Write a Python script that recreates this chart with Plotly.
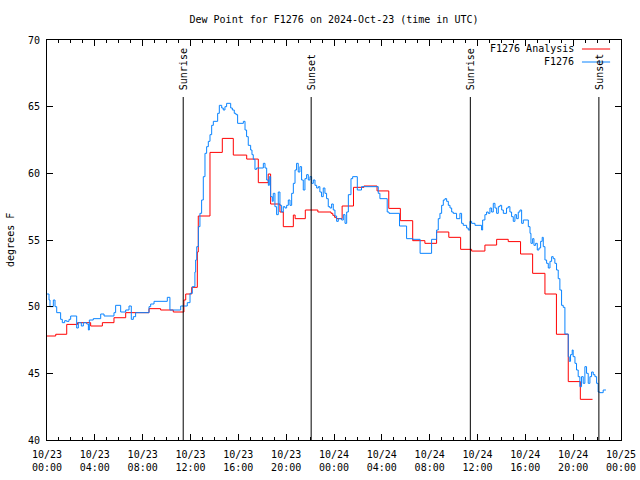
import plotly.graph_objects as go

# hours since 2024-10-23 00:00 UTC
red_t = [0.0, 0.73, 1.65, 2.55, 3.65, 4.63, 5.6, 6.58, 8.53, 9.5, 10.56, 11.45, 11.6, 12.1, 12.57, 12.65,
         13.63, 14.66, 15.58, 16.7, 17.67, 18.5, 18.7, 19.48, 19.76, 20.6, 20.75, 21.6, 22.65, 23.75, 23.9,
         24.05, 24.2, 24.68, 25.63, 26.5, 27.6, 28.58, 29.55, 30.58, 31.6, 32.58, 33.6, 34.59, 35.51, 36.62,
         37.6, 38.57, 39.6, 40.61, 41.64, 42.6, 43.59, 44.6, 45.62]
red_v = [47.8, 47.93, 48.67, 48.8, 48.55, 48.8, 49.17, 49.55, 49.85, 49.75, 49.6, 50.5, 50.95, 51.45, 54.1, 56.8,
         61.57, 62.62, 61.37, 61.07, 59.3, 59.95, 57.7, 57.1, 56.0, 56.87, 56.6, 57.25, 57.1, 57.0, 56.85,
         56.7, 56.6, 57.55, 58.95, 59.05, 58.68, 57.37, 56.45, 54.95, 54.75, 55.6, 55.2, 54.3, 54.17, 54.62,
         55.05, 54.88, 53.95, 52.5, 50.95, 47.93, 44.38, 43.05, 43.05]

blue_t = [0.0, 0.17, 0.25, 0.53, 0.67, 0.81, 1.14, 1.28, 1.48, 1.64, 1.84, 1.98, 2.48, 2.62, 2.87, 3.04,
          3.32, 3.46, 3.54, 3.87, 4.49, 4.77, 5.6, 5.74, 6.16, 6.58, 6.86, 7.05, 7.22, 7.41, 8.53, 8.67,
          8.95, 10.06, 10.28, 11.18, 11.73, 11.96, 12.15, 12.37, 12.43, 12.52, 12.66, 12.79, 12.93, 13.07,
          13.21, 13.35, 13.49, 13.63, 13.77, 13.91, 14.27, 14.41, 14.61, 14.74, 14.88, 15.02, 15.36, 15.5,
          15.66, 15.8, 15.94, 16.42, 16.56, 16.69, 16.83, 17.03, 17.14, 17.25, 17.39, 17.53, 18.09, 18.23,
          18.37, 18.51, 18.59, 18.7, 18.84, 18.92, 19.06, 19.2, 19.34, 19.48, 19.62, 19.76, 19.9, 20.04,
          20.18, 20.32, 20.46, 20.6, 20.74, 20.87, 21.01, 21.15, 21.29, 21.43, 21.57, 21.71, 21.85, 21.99,
          22.13, 22.27, 22.41, 22.55, 22.69, 22.82, 22.96, 23.1, 23.24, 23.38, 23.52, 23.66, 23.8, 23.94,
          24.08, 24.22, 24.36, 24.64, 24.78, 24.92, 25.06, 25.2, 25.42, 25.56, 25.95, 26.3, 27.7, 27.84,
          28.45, 28.6, 29.48, 30.07, 30.6, 31.2, 32.16, 32.58, 32.72, 32.86, 33.0, 33.14, 33.28, 33.42,
          33.56, 33.7, 33.84, 33.97, 34.25, 34.53, 34.67, 34.81, 35.09, 35.23, 35.37, 35.51, 35.79, 36.34,
          36.43, 36.62, 36.76, 36.9, 37.04, 37.18, 37.32, 37.46, 37.6, 37.74, 37.88, 38.02, 38.16, 38.43,
          38.57, 38.71, 38.85, 38.99, 39.13, 39.27, 39.41, 39.55, 39.69, 39.83, 40.25, 40.39, 40.47, 40.61,
          40.72, 40.86, 41.0, 41.14, 41.28, 41.41, 41.5, 41.64, 41.78, 41.92, 42.06, 42.2, 42.33, 42.47,
          42.61, 42.75, 42.89, 43.03, 43.17, 43.31, 43.59, 43.67, 43.78, 43.92, 44.0, 44.15, 44.28, 44.42,
          44.56, 44.7, 44.84, 44.98, 45.12, 45.26, 45.4, 45.54, 45.68, 45.82, 45.96, 46.09, 46.23, 46.51,
          46.74]
blue_v = [50.95, 50.5, 50.0, 50.5, 50.0, 49.55, 49.05, 48.8, 48.95, 48.9, 49.05, 49.3, 48.4, 48.8, 48.55, 48.8,
          48.7, 48.25, 49.0, 49.1, 49.45, 49.3, 49.55, 50.1, 49.6, 49.75, 50.05, 49.05, 49.25, 49.55, 50.0, 50.2,
          50.4, 50.7, 49.75, 50.05, 50.3, 51.0, 51.5, 52.6, 53.5, 54.5, 56.0, 57.0, 58.0, 59.75,
          61.5, 62.0, 62.4, 62.9, 63.6, 63.9, 64.5, 65.1, 64.9, 64.75, 65.0, 65.25, 64.9, 64.75,
          64.5, 64.4, 63.75, 63.9, 63.25, 62.75, 62.1, 61.75, 61.4, 61.05, 60.3, 60.4, 60.75, 60.4,
          59.5, 59.1, 59.75, 58.25, 57.9, 58.5, 57.5, 56.9, 58.6, 57.6, 57.1, 57.5, 57.4, 57.6,
          58.0, 57.6, 58.5, 59.25, 60.25, 60.75, 60.1, 60.5, 59.5, 58.75, 59.6, 59.9, 59.5, 59.75,
          59.25, 59.5, 59.1, 58.9, 59.0, 58.6, 58.25, 58.9, 58.5, 58.1, 57.5, 57.4, 57.7, 57.25,
          56.8, 56.4, 56.6, 56.5, 56.9, 56.25, 57.1, 58.4, 59.6, 59.75, 58.75, 59.0, 58.5, 58.1,
          57.1, 57.0, 56.05, 55.1, 55.05, 54.0, 55.05, 55.75, 56.6, 57.0, 57.6, 58.0, 58.1, 57.9,
          57.6, 57.4, 57.1, 57.0, 56.6, 57.0, 56.25, 56.1, 55.9, 55.75, 56.4, 56.25, 56.1, 55.75,
          56.5, 56.9, 57.1, 57.0, 57.4, 57.1, 57.75, 57.4, 57.0, 57.5, 57.6, 57.25, 57.0, 57.4,
          57.5, 57.1, 56.75, 56.4, 56.9, 56.6, 57.1, 57.25, 56.25, 56.5, 56.0, 55.5, 54.75, 55.1,
          54.6, 54.75, 54.25, 54.4, 54.9, 55.2, 54.5, 53.5, 53.25, 52.9, 53.4, 53.75, 53.6, 53.25,
          52.75, 52.1, 51.25, 50.1, 49.95, 47.95, 46.25, 45.9, 46.4, 46.75, 46.25, 45.75, 45.25, 44.75,
          44.0, 44.75, 44.25, 45.5, 45.0, 44.25, 44.75, 45.1, 44.9, 44.75, 44.25, 43.6, 43.55, 43.75,
          43.75]

tick_hours = [0, 4, 8, 12, 16, 20, 24, 28, 32, 36, 40, 44, 48]
tick_labels = ["10/23<br>00:00", "10/23<br>04:00", "10/23<br>08:00", "10/23<br>12:00", "10/23<br>16:00",
               "10/23<br>20:00", "10/24<br>00:00", "10/24<br>04:00", "10/24<br>08:00", "10/24<br>12:00",
               "10/24<br>16:00", "10/24<br>20:00", "10/25<br>00:00"]

sun_t = [11.39, 22.09, 35.40, 46.15]
sun_labels = ["Sunrise", "Sunset", "Sunrise", "Sunset"]

legend_names = ["F1276 Analysis", "F1276"]
colors = ["#ff0000", "#0a84ff"]

FONT = "DejaVu Sans Mono"

fig = go.Figure()
fig.add_trace(go.Scatter(x=red_t, y=red_v, mode="lines", line=dict(color=colors[0], width=1, shape="hv"),
                         name=legend_names[0], showlegend=False))
fig.add_trace(go.Scatter(x=blue_t, y=blue_v, mode="lines", line=dict(color=colors[1], width=1, shape="hv"),
                         name=legend_names[1], showlegend=False))

for t, lab in zip(sun_t, sun_labels):
    fig.add_shape(type="line", xref="x", yref="paper", x0=t, x1=t, y0=0, y1=0.8575,
                  line=dict(color="black", width=1))
    fig.add_annotation(x=t, xref="x", y=0.87, yref="paper", text=lab, textangle=-90, showarrow=False,
                       xanchor="center", yanchor="bottom", font=dict(family=FONT, size=10, color="black"))

# legend (gnuplot style: text right-aligned, sample to the right)
for i, (nm, c) in enumerate(zip(legend_names, colors)):
    yp = 0.9775 - i * 0.0325
    fig.add_annotation(x=0.922, xref="paper", y=yp, yref="paper", text=nm, showarrow=False,
                       xanchor="right", yanchor="middle", font=dict(family=FONT, size=10, color="black"))
    fig.add_shape(type="line", xref="paper", yref="paper", x0=0.932, x1=0.981, y0=yp, y1=yp,
                  line=dict(color=c, width=1))

fig.add_annotation(x=-0.0645, xref="paper", y=0.5, yref="paper", text="degrees F", textangle=-90,
                   showarrow=False, xanchor="center", yanchor="middle",
                   font=dict(family=FONT, size=10, color="black"))

fig.update_layout(
    width=640, height=480,
    margin=dict(l=47, r=19, t=40, b=40, autoexpand=False),
    paper_bgcolor="white", plot_bgcolor="white",
    title=dict(text="Dew Point for F1276 on 2024-Oct-23 (time in UTC)", x=0.5, xref="paper",
               y=1 - 19 / 480, yref="container", xanchor="center", yanchor="middle",
               font=dict(family=FONT, size=10, color="black")),
    font=dict(family=FONT, size=10, color="black"),
    showlegend=False,
)
fig.update_xaxes(range=[0, 48], tickvals=tick_hours, ticktext=tick_labels, ticks="inside", ticklen=6,
                 tickcolor="black", showline=True, linecolor="black", linewidth=1, mirror="ticks",
                 showgrid=False, zeroline=False, ticklabelstandoff=5,
                 minor=dict(dtick=1, ticks="inside", ticklen=3, tickcolor="black", showgrid=False),
                 tickfont=dict(family=FONT, size=10, color="black"))
fig.update_yaxes(range=[40, 70], dtick=5, tick0=40, ticks="inside", ticklen=6, tickcolor="black",
                 showline=True, linecolor="black", linewidth=1, mirror="ticks", showgrid=False,
                 zeroline=False, ticklabelstandoff=4, tickfont=dict(family=FONT, size=10, color="black"))

fig.write_html("out.html", config={"displayModeBar": False},
               post_script="document.body.style.margin='0';document.body.style.padding='0';")
